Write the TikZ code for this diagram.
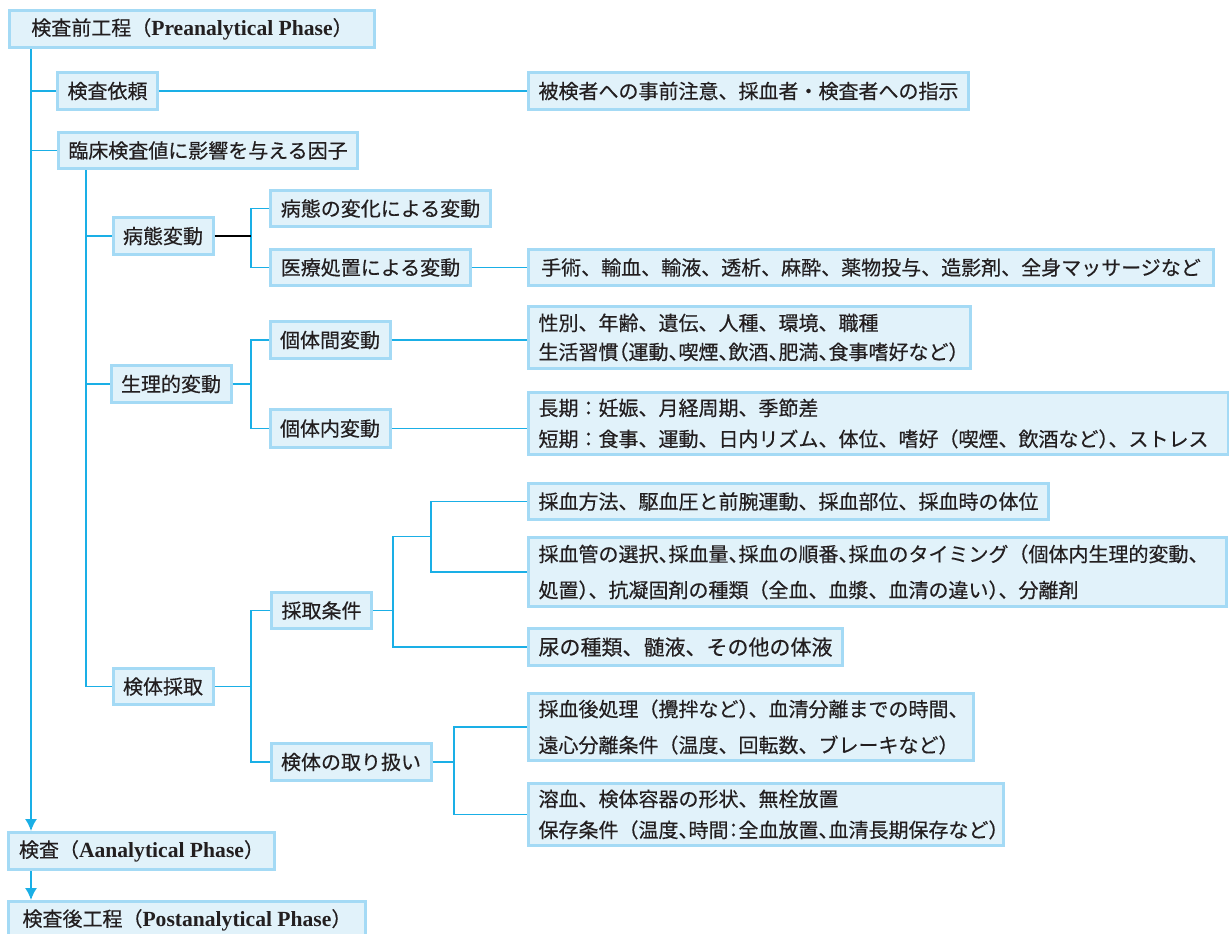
\documentclass[tikz,border=0pt]{standalone}
\usepackage{fontspec}
\setmainfont{Liberation Serif}
\newfontfamily\jp[FakeBold=0.35]{Noto Sans CJK JP}
\usetikzlibrary{arrows.meta}
\definecolor{boxfill}{HTML}{E1F2FA}
\definecolor{boxline}{HTML}{A4DAF5}
\definecolor{linkblue}{HTML}{1AAFE6}
\definecolor{ink}{HTML}{231F20}
% half-width punctuation
\newcommand\hc[1]{\makebox[.5em][l]{#1}}
\newcommand\hm[1]{\makebox[.5em][c]{#1}}
\newcommand\ho[1]{\makebox[.5em][r]{#1}}
\newcommand\en[1]{{\rmfamily\bfseries\fontsize{10.8pt}{15pt}\selectfont #1}}
\tikzset{
  box/.style={draw=boxline, fill=boxfill, line width=1.5pt, text=ink,
    inner xsep=5pt, inner ysep=0pt, font=\jp\fontsize{10pt}{15pt}\selectfont},
  wide/.style={box, align=left, text width=#1},
  link/.style={draw=linkblue, line width=0.8pt},
  tip/.style={-{Latex[length=6pt,width=6pt]}},
}
\begin{document}
\begin{tikzpicture}[x=0.5pt,y=-0.5pt]
  \useasboundingbox (0,0) rectangle (1229,933);
  \coordinate (t1) at (31,0);
  \coordinate (t2) at (86,0);
  \coordinate (t3) at (251,0);
  \coordinate (t4) at (393,0);
  \coordinate (t5) at (431,0);
  \coordinate (t6) at (454,0);
  \coordinate (j1) at (431,536.5);
  % phases
  \node[box, minimum width=182.5pt, minimum height=18.5pt] (pre) at (192,29) {検査前工程（\en{Preanalytical Phase}）};
  \node[box, minimum width=133pt, minimum height=18.5pt] (ana) at (141.5,851) {検査（\en{Aanalytical Phase}）};
  \node[box, minimum width=178.5pt, minimum height=18.5pt] (post) at (187,920) {検査後工程（\en{Postanalytical Phase}）};
  % request
  \node[box, minimum width=49pt, minimum height=18.5pt] (req) at (107.5,91) {検査依頼};
  \node[box, minimum width=220pt, minimum height=18.5pt] (reqx) at (748.5,91) {被検者への事前注意、採血者・検査者への指示};
  \node[box, minimum width=149.5pt, minimum height=18pt] (fac) at (208,150.5) {臨床検査値に影響を与える因子};
  % pathological
  \node[box, minimum width=48.5pt, minimum height=18.5pt] (patho) at (163,236) {病態変動};
  \node[box, minimum width=109pt, minimum height=18pt] (pathchg) at (380.5,208.5) {病態の変化による変動};
  \node[box, minimum width=99pt, minimum height=18pt] (medic) at (370.5,267.5) {医療処置による変動};
  \node[box, minimum width=342.5pt, minimum height=18pt] (medicx) at (871,267.5) {手術、輸血、輸液、透析、麻酔、薬物投与、造影剤、全身マッサージなど};
  % physiological
  \node[box, minimum width=57.5pt, minimum height=18.5pt] (phys) at (171,384) {生理的変動};
  \node[box, minimum width=57.5pt, minimum height=18.5pt] (inter) at (330,340) {個体間変動};
  \node[box, minimum width=57.5pt, minimum height=19pt] (intra) at (330,428.5) {個体内変動};
  \node[wide=211pt, minimum height=31pt, font=\jp\fontsize{10pt}{14.5pt}\selectfont] (interx) at (749.5,337.5)
    {性別、年齢、遺伝、人種、環境、職種\\生活習慣\ho{（}運動\hc{、}喫煙\hc{、}飲酒\hc{、}肥満\hc{、}食事嗜好など\hc{）}};
  \node[wide=340pt, minimum height=31pt, font=\jp\fontsize{10pt}{15.5pt}\selectfont] (intrax) at (878.5,423.5)
    {長期：妊娠、月経周期、季節差\\短期：食事、運動、日内リズム、体位、嗜好（喫煙、飲酒など\hc{）}、ストレス};
  % sampling
  \node[box, minimum width=49.5pt, minimum height=18pt] (samp) at (163,686.5) {検体採取};
  \node[box, minimum width=49pt, minimum height=18pt] (cond) at (321.5,610.5) {採取条件};
  \node[box, minimum width=78.5pt, minimum height=18.5pt] (hand) at (351,762) {検体の取り扱い};
  \node[box, minimum width=260pt, minimum height=18pt] (condA) at (788.5,501.5) {採血方法、駆血圧と前腕運動、採血部位、採血時の体位};
  \node[wide=339pt, minimum height=34.5pt, font=\jp\fontsize{10pt}{18pt}\selectfont] (condB) at (877.5,572)
    {採血管の選択\hc{、}採血量\hc{、}採血の順番\hc{、}採血のタイミング（個体内生理的変動、\\処置\hc{）}、抗凝固剤の種類（全血、血漿、血清の違い\hc{）}、分離剤};
  \node[box, minimum width=156pt, minimum height=18.5pt, font=\jp\fontsize{10.5pt}{15pt}\selectfont] (condC) at (685.5,647) {尿の種類、髄液、その他の体液};
  \node[wide=212.5pt, minimum height=33.5pt, font=\jp\fontsize{10pt}{18pt}\selectfont] (handA) at (751,727)
    {採血後処理（攪拌など\hc{）}、血清分離までの時間、\\遠心分離条件（温度、回転数、ブレーキなど）};
  \node[wide=227.5pt, minimum height=31pt, font=\jp\fontsize{10pt}{15.5pt}\selectfont] (handB) at (766,814.5)
    {溶血、検体容器の形状、無栓放置\\保存条件（温度\hc{、}時間\hm{：}全血放置\hc{、}血清長期保存など\hc{）}};
  \begin{scope}[link]
    \draw[tip] (pre.south -| t1) to (ana.north -| t1);
    \draw[tip] (ana.south -| t1) to (post.north -| t1);
    \draw (req.west -| t1) to (req.west);
    \draw (req.east) to (reqx.west);
    \draw (fac.west -| t1) to (fac.west);
    \draw (fac.south -| t2) to (samp.west -| t2);
    \draw (patho.west -| t2) to (patho.west);
    \draw (phys.west -| t2) to (phys.west);
    \draw (samp.west -| t2) to (samp.west);
    \draw (pathchg.west) -- (pathchg.west -| t3) |- (medic.west);
    \draw (medic.east) to (medicx.west);
    \draw (phys.east) to (phys.east -| t3);
    \draw (inter.west) -- (inter.west -| t3) |- (intra.west);
    \draw (inter.east) to (inter.east -| interx.west);
    \draw (intra.east) to (intra.east -| intrax.west);
    \draw (samp.east) to (samp.east -| t3);
    \draw (cond.west) -- (cond.west -| t3) |- (hand.west);
    \draw (cond.east) to (cond.east -| t4);
    \draw (j1) -- (j1 -| t4) |- (condC.west);
    \draw (condA.west) -- (condA.west -| t5) |- (condB.west);
    \draw (hand.east) to (hand.east -| t6);
    \draw (handA.west) -- (handA.west -| t6) |- (handB.west);
  \end{scope}
  \draw[black, line width=1.2pt] (patho.east) to (patho.east -| t3);
\end{tikzpicture}
\end{document}
